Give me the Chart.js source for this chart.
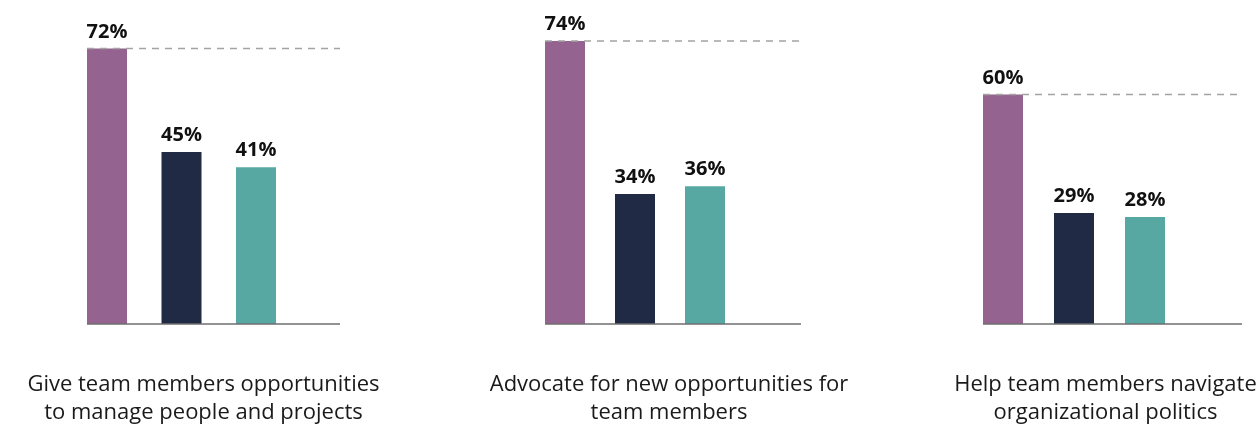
<!DOCTYPE html>
<html>
<head>
<meta charset="utf-8">
<title>Team member support</title>
<script src="https://cdn.jsdelivr.net/npm/chart.js@4"></script>
<style>
  html, body { margin: 0; padding: 0; background: #fff; }
  #wrap { position: relative; width: 1258px; height: 424px; overflow: hidden; }
  #wrap canvas { position: absolute; top: 0; }
</style>
</head>
<body>
<div id="wrap">
  <canvas id="chart0" width="440" height="424" style="left:0px"></canvas>
  <canvas id="chart1" width="460" height="424" style="left:420px"></canvas>
  <canvas id="chart2" width="418" height="424" style="left:840px"></canvas>
</div>
<script>
// Datos
const categories = [
    ['Give team members opportunities', 'to manage people and projects'],
    ['Advocate for new opportunities for', 'team members'],
    ['Help team members navigate', 'organizational politics']
];
const seriesNames = ['Group 1', 'Group 2', 'Group 3'];
const group1Values = [72, 74, 60];
const group2Values = [45, 34, 29];
const group3Values = [41, 36, 28];
const seriesColors = ['#95638f', '#202a45', '#57a8a2'];

// Ajustes de maquetacion por panel (posicion de barras, linea base, etiqueta)
const paneles = [
    { padLeft: 87,  padRight: 164, slot: 74.5, lineLength: 253, labelOffset: 22 },
    { padLeft: 125, padRight: 155, slot: 70,   lineLength: 256, labelOffset: 34 },
    { padLeft: 143, padRight: 93,  slot: 71,   lineLength: 259, labelOffset: 31.5 }
];

// Linea base, linea discontinua y etiquetas de valor
const decoracion = {
    id: 'decoracion',
    afterDatasetsDraw(chart, args, opts) {
        const ctx = chart.ctx;
        const area = chart.chartArea;
        const y0 = chart.scales.y.getPixelForValue(0);
        const fin = area.left + opts.lineLength;
        const primera = chart.getDatasetMeta(0).data[0];

        ctx.save();
        ctx.lineWidth = 1.5;
        ctx.strokeStyle = '#a3a3a3';
        ctx.setLineDash([7, 6]);
        ctx.beginPath();
        ctx.moveTo(primera.x - primera.width / 2, primera.y);
        ctx.lineTo(fin, primera.y);
        ctx.stroke();

        ctx.setLineDash([]);
        ctx.strokeStyle = '#6e6e6e';
        ctx.beginPath();
        ctx.moveTo(area.left, y0);
        ctx.lineTo(fin, y0);
        ctx.stroke();

        ctx.font = 'bold 20px "Open Sans"';
        ctx.fillStyle = '#111111';
        ctx.textAlign = 'center';
        ctx.textBaseline = 'alphabetic';
        chart.data.datasets.forEach((ds, k) => {
            const bar = chart.getDatasetMeta(k).data[0];
            ctx.fillText(ds.data[0] + '%', bar.x, bar.y - 11);
        });
        ctx.restore();
    }
};

function crearPanel(i) {
    const p = paneles[i];
    const ancho = 2 * p.slot + 40;
    const valores = [group1Values, group2Values, group3Values];
    new Chart(document.getElementById('chart' + i), {
        type: 'bar',
        data: {
            labels: [categories[i]],
            datasets: valores.map((v, k) => ({
                label: seriesNames[k],
                data: [v[i]],
                backgroundColor: seriesColors[k],
                borderWidth: 0,
                categoryPercentage: (3 * p.slot) / ancho,
                barPercentage: 40 / p.slot
            }))
        },
        options: {
            responsive: false,
            animation: false,
            layout: { padding: { left: p.padLeft, right: p.padRight, top: 18, bottom: 0 } },
            plugins: {
                legend: { display: false },
                tooltip: { enabled: false },
                decoracion: { lineLength: p.lineLength }
            },
            scales: {
                x: {
                    grid: { display: false, drawTicks: false },
                    border: { display: false },
                    ticks: {
                        padding: 47,
                        labelOffset: p.labelOffset,
                        maxRotation: 0,
                        autoSkip: false,
                        color: '#1a1a1a',
                        font: { family: '"Open Sans"', size: 22, lineHeight: '28px' }
                    },
                    afterFit(scale) {
                        scale.paddingLeft = 0;
                        scale.paddingRight = 0;
                        scale.height = 100;
                    }
                },
                y: {
                    display: false,
                    min: 0,
                    max: 80
                }
            }
        },
        plugins: [decoracion]
    });
}

document.addEventListener('DOMContentLoaded', () => {
    for (let i = 0; i < categories.length; i++) crearPanel(i);
});
</script>
</body>
</html>
